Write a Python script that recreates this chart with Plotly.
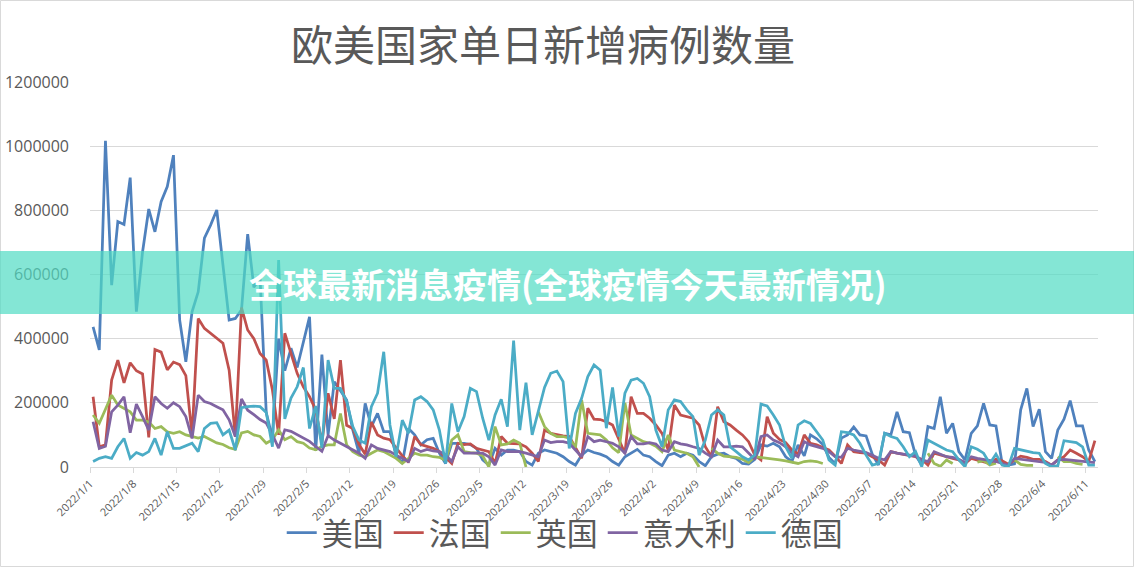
import plotly.graph_objects as go
import pandas as pd

# ---------------- data (daily new cases, in thousands) ----------------
start_date = "2022-01-01"
n_days = 163
dates = pd.date_range(start_date, periods=n_days, freq="D")
UNIT = 1000

us = [437, 365, 1017, 567, 765, 756, 902,
      484, 670, 804, 733, 827, 874, 972,
      458, 328, 484, 546, 713, 754, 801,
      620, 458, 463, 490, 726, 560, 590,
      170, 90, 400, 300, 370, 310, 390,
      468, 50, 350, 100, 266, 238, 209,
      115, 43, 198, 126, 167, 110, 110,
      37, 11, 120, 100, 69, 85, 89,
      43, 11, 74, 74, 74, 70, 58,
      22, 6, 58, 37, 53, 53, 48,
      17, 6, 43, 53, 48, 43, 32,
      17, 6, 37, 53, 45, 40, 32,
      17, 6, 32, 43, 55, 37, 32,
      17, 4, 37, 43, 32, 43, 37,
      17, 4, 32, 40, 43, 32, 27,
      11, 9, 24, 69, 65, 74, 63,
      32, 17, 69, 35, 100, 88, 70,
      30, 10, 90, 100, 125, 100, 97,
      40, 6, 105, 100, 172, 110, 107,
      37, 6, 126, 120, 219, 105, 136,
      48, 22, 105, 128, 198, 131, 128,
      11, 6, 10, 178, 245, 126, 180,
      48, 27, 115, 149, 207, 128, 128,
      53, 17]

france = [219, 63, 69, 271, 333, 262, 325,
          300, 290, 92, 366, 358, 303, 327,
          319, 285, 100, 463, 432, 417, 402,
          386, 302, 94, 497, 427, 400, 354,
          333, 240, 100, 417, 354, 292, 250,
          219, 178, 75, 230, 150, 333, 130,
          120, 70, 40, 140, 100, 90, 85,
          60, 35, 15, 95, 70, 65, 58,
          48, 30, 11, 74, 70, 72, 58,
          53, 48, 11, 95, 74, 72, 72,
          63, 43, 17, 115, 105, 100, 97,
          95, 63, 27, 183, 149, 148, 141,
          131, 84, 43, 219, 167, 167, 152,
          131, 105, 53, 193, 162, 157, 152,
          131, 63, 32, 188, 141, 131, 115,
          100, 79, 37, 22, 157, 105, 86,
          76, 53, 40, 100, 74, 69, 61,
          53, 34, 11, 69, 48, 45, 43,
          32, 22, 6, 48, 43, 40, 37,
          32, 24, 6, 43, 37, 32, 27,
          22, 11, 27, 22, 17, 11, 24,
          19, 9, 22, 34, 30, 24, 24,
          17, 6, 22, 32, 53, 43, 32,
          17, 82]

uk = [162, 136, 180, 224, 193, 183, 172,
      146, 146, 140, 120, 126, 110, 105,
      110, 100, 95, 90, 95, 85, 75,
      70, 60, 55, 106, 111, 100, 95,
      74, 85, 116, 85, 95, 79, 74,
      59, 54, 64, 69, 69, 167, 69,
      48, 37, 32, 43, 53, 48, 37,
      27, 11, 27, 43, 37, 37, 32,
      30, 20, 84, 100, 48, 45, 43,
      35, 0, 126, 69, 72, 84, 74,
      0, None, 172, 126, 105, 95, 95,
      90, 60, 209, 105, 103, 100, 84,
      60, 45, 200, 100, 89, 79, 74,
      65, 48, 100, 53, 48, 43, 32,
      0, None, 58, 43, 34, 32, 30,
      24, 14, 32, 30, 27, 24, 22,
      19, 15, 11, 17, 19, 17, 11,
      None, None, None, None, None, None, None,
      None, None, None, None, None, None, None,
      None, None, 43, 11, 2, 22, 11,
      None, None, None, 15, 20, 6, 12,
      None, None, 22, 8, 5, 5, None,
      None, None, 32, 17, 17, 11, 8,
      None, None]

italy = [141, 58, 65, 172, 193, 219, 107,
         196, 157, 115, 219, 198, 183, 200,
         188, 157, 89, 224, 204, 198, 188,
         178, 147, 95, 212, 177, 163, 148,
         137, 101, 59, 116, 111, 101, 90,
         80, 64, 49, 98, 84, 74, 63,
         53, 43, 27, 69, 58, 53, 48,
         37, 27, 17, 58, 48, 55, 50,
         48, 38, 17, 63, 43, 43, 43,
         43, 32, 6, 53, 48, 48, 48,
         43, 37, 32, 84, 76, 79, 79,
         74, 53, 32, 95, 79, 84, 79,
         74, 63, 43, 95, 72, 72, 76,
         72, 53, 48, 79, 72, 69, 63,
         58, 43, 32, 84, 63, 63, 65,
         63, 43, 24, 95, 100, 84, 76,
         63, 43, 32, 79, 69, 63, 58,
         48, 32, 30, 58, 53, 48, 45,
         37, 27, 22, 48, 43, 40, 37,
         34, 22, 17, 48, 40, 32, 30,
         24, 14, 32, 27, 24, 19, 17,
         11, 6, 27, 24, 22, 20, 17,
         14, 6, 22, 24, 22, 20, 18,
         16, 14]

germany = [17, 27, 32, 27, 63, 89, 27,
           45, 37, 48, 89, 37, 110, 58,
           58, 65, 74, 48, 120, 136, 138,
           100, 115, 53, 185, 188, 190, 188,
           170, 63, 645, 150, 215, 250, 310,
           120, 190, 60, 333, 245, 245, 204,
           126, 84, 74, 188, 230, 359, 131,
           32, 146, 105, 209, 219, 204, 178,
           115, 11, 198, 110, 157, 245, 235,
           152, 84, 162, 211, 126, 394, 115,
           263, 100, 178, 248, 292, 299, 266,
           58, 167, 214, 282, 318, 302, 121,
           248, 95, 230, 271, 276, 261, 219,
           115, 63, 178, 209, 204, 178, 157,
           37, 84, 162, 178, 162, 63, 48,
           32, 22, 37, 196, 190, 162, 131,
           63, 27, 131, 144, 136, 110, 84,
           22, 6, 110, 107, 100, 74, 37,
           6, 11, 105, 95, 89, 63, 32,
           48, 1, 84, 74, 63, 53, 48,
           22, 1, 63, 55, 43, 11, 40,
           6, 1, 58, 53, 48, 45, 43,
           11, 1, 4, 82, 79, 76, 63,
           6, 6]

series_names = ["美国", "法国", "英国", "意大利", "德国"]
series_values = [us, france, uk, italy, germany]
series_colors = ["#4F81BD", "#C0504D", "#9BBB59", "#8064A2", "#4BACC6"]

tick_labels = ["2022/1/1", "2022/1/8", "2022/1/15", "2022/1/22", "2022/1/29",
               "2022/2/5", "2022/2/12", "2022/2/19", "2022/2/26", "2022/3/5",
               "2022/3/12", "2022/3/19", "2022/3/26", "2022/4/2", "2022/4/9",
               "2022/4/16", "2022/4/23", "2022/4/30", "2022/5/7", "2022/5/14",
               "2022/5/21", "2022/5/28", "2022/6/4", "2022/6/11"]

title_text = "欧美国家单日新增病例数量"
banner_text = "全球最新消息疫情(全球疫情今天最新情况)"

# ---------------- figure ----------------
W, H = 1134, 567
L, R, T, B = 90, 36, 82, 100
plot_w = W - L - R
plot_h = H - T - B

half_day = pd.Timedelta(hours=12)
tick_vals = [pd.Timestamp(t.replace("/", "-")) - half_day for t in tick_labels]
x_range = [dates[0] - half_day, dates[-1] + half_day]

fig = go.Figure()
for name, vals, color in zip(series_names, series_values, series_colors):
    fig.add_trace(go.Scatter(
        x=dates,
        y=[None if v is None else v * UNIT for v in vals],
        mode="lines", name=name,
        line=dict(color=color, width=2.75),
        connectgaps=False,
    ))

def px_to_paper_x(px):
    return (px - L) / plot_w

def px_to_paper_y(py):
    return (H - B - py) / plot_h

fig.update_layout(
    width=W, height=H,
    margin=dict(l=L, r=R, t=T, b=B, autoexpand=False),
    paper_bgcolor="white", plot_bgcolor="white",
    title=dict(text=title_text, xref="container", x=543 / W, xanchor="center",
               yref="container", y=1 - 46 / H, yanchor="middle",
               font=dict(family="Noto Sans CJK SC", size=42, color="#595959")),
    xaxis=dict(type="date", range=x_range, tickvals=tick_vals, ticktext=tick_labels,
               tickangle=-45, tickfont=dict(family="Open Sans", size=11, color="#595959"),
               showgrid=False, showline=True, linecolor="#D9D9D9", linewidth=1,
               ticks="outside", ticklen=5, tickcolor="#D9D9D9", zeroline=False),
    yaxis=dict(range=[0, 1200000], dtick=200000, tickformat="d",
               showgrid=True, gridcolor="#D9D9D9", gridwidth=1,
               zeroline=False, showline=False, ticks="",
               ticklabelstandoff=20,
               tickfont=dict(family="Open Sans", size=16, color="#595959")),
    legend=dict(orientation="h", xref="container", x=0.498, xanchor="center",
                yref="container", y=1 - 533 / H, yanchor="middle",
                font=dict(family="Noto Sans CJK SC", size=31, color="#595959"),
                itemwidth=30, bgcolor="rgba(0,0,0,0)"),
    showlegend=True,
    shapes=[
        dict(type="rect", xref="paper", yref="paper",
             x0=px_to_paper_x(0.5), x1=px_to_paper_x(W - 0.5),
             y0=px_to_paper_y(H - 0.5), y1=px_to_paper_y(0.5),
             line=dict(color="#D9D9D9", width=1), fillcolor="rgba(0,0,0,0)", layer="below"),
        dict(type="rect", xref="paper", yref="paper",
             x0=px_to_paper_x(0), x1=px_to_paper_x(W),
             y0=px_to_paper_y(314), y1=px_to_paper_y(251),
             line=dict(width=0), fillcolor="rgba(80,220,195,0.7)", layer="above"),
    ],
    annotations=[
        dict(text=banner_text, xref="paper", yref="paper",
             x=px_to_paper_x(567.5), y=px_to_paper_y(283),
             xanchor="center", yanchor="middle", showarrow=False,
             font=dict(family="Noto Sans CJK SC", size=34, color="white", weight=700)),
    ],
)

fig.write_html("out.html",
               config={"displayModeBar": False},
               post_script="document.body.style.margin='0';document.body.style.overflow='hidden';")
